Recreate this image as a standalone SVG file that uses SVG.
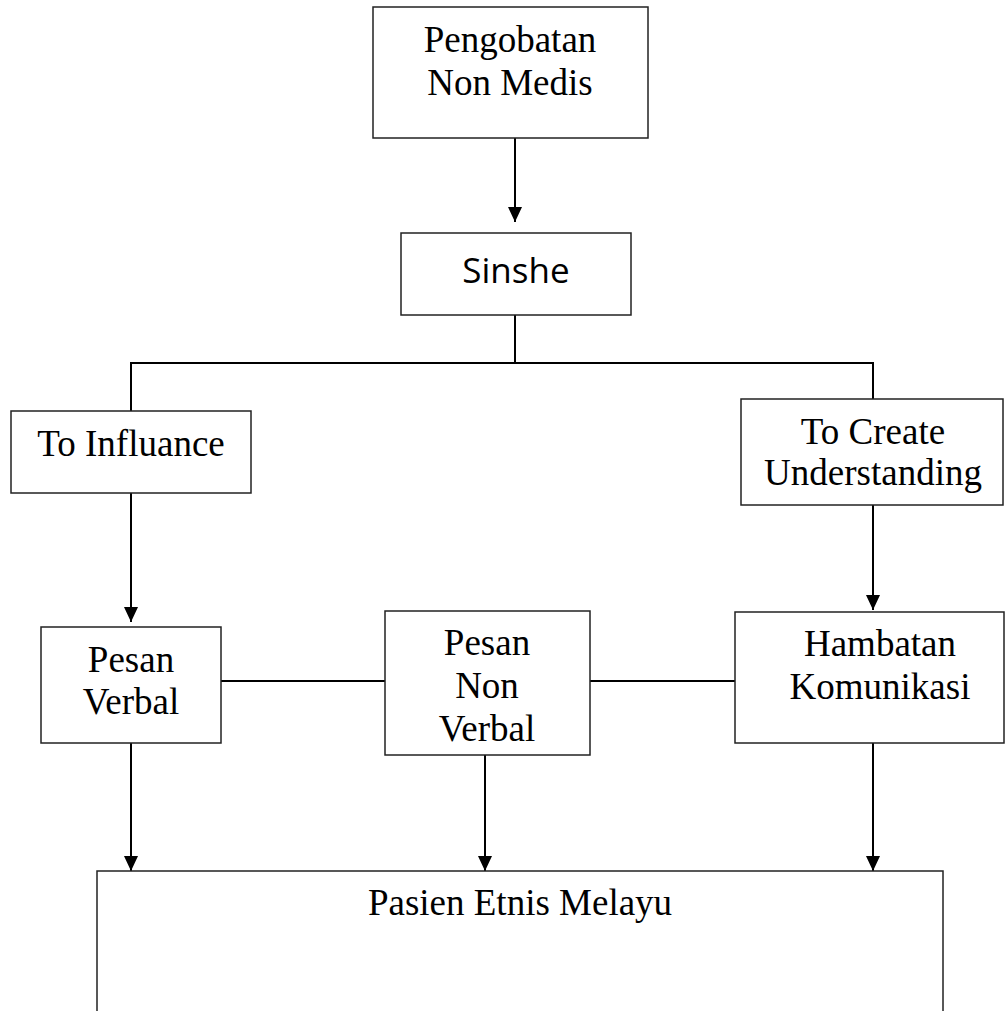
<svg xmlns="http://www.w3.org/2000/svg" width="1005" height="1011" viewBox="0 0 1005 1011">
<style>
.box{fill:#fff;stroke:#222;stroke-width:1.5}
.t{font-family:"Liberation Serif","Times New Roman",serif;font-size:37px;fill:#000;text-anchor:middle}
.s{font-family:"Open Sans","Noto Sans",sans-serif;font-size:35px;fill:#000;text-anchor:middle}
.c{fill:none;stroke:#000;stroke-width:2}
</style>
<defs>
<marker id="arr" markerUnits="userSpaceOnUse" markerWidth="15" markerHeight="14" refX="15" refY="7" orient="auto">
<path d="M0,0 L15,7 L0,14 z" fill="#000"/>
</marker>
</defs>
<rect width="1005" height="1011" fill="#fff"/>
<g id="connectors">
<line class="c" x1="515" y1="138" x2="515" y2="222" marker-end="url(#arr)"/>
<polyline class="c" points="515,315 515,363"/>
<polyline class="c" points="131,411 131,363 873,363 873,399"/>
<line class="c" x1="131" y1="493" x2="131" y2="622" marker-end="url(#arr)"/>
<line class="c" x1="873" y1="505" x2="873" y2="610" marker-end="url(#arr)"/>
<line class="c" x1="221" y1="681" x2="385" y2="681"/>
<line class="c" x1="590" y1="681" x2="735" y2="681"/>
<line class="c" x1="131" y1="743" x2="131" y2="871" marker-end="url(#arr)"/>
<line class="c" x1="485" y1="755" x2="485" y2="871" marker-end="url(#arr)"/>
<line class="c" x1="873" y1="743" x2="873" y2="871" marker-end="url(#arr)"/>
</g>
<g id="pengobatan">
<rect class="box" x="373" y="7" width="275" height="131"/>
<text class="t" x="510" y="52">Pengobatan</text>
<text class="t" x="510" y="95">Non Medis</text>
</g>
<g id="sinshe">
<rect class="box" x="401" y="233" width="230" height="82"/>
<text class="s" x="516" y="283">Sinshe</text>
</g>
<g id="influance">
<rect class="box" x="11" y="411" width="240" height="82"/>
<text class="t" x="131" y="456">To Influance</text>
</g>
<g id="understanding">
<rect class="box" x="741" y="399" width="262" height="106"/>
<text class="t" x="873" y="444">To Create</text>
<text class="t" x="873" y="485">Understanding</text>
</g>
<g id="pesan-verbal">
<rect class="box" x="41" y="627" width="180" height="116"/>
<text class="t" x="131" y="672">Pesan</text>
<text class="t" x="131" y="714">Verbal</text>
</g>
<g id="pesan-non-verbal">
<rect class="box" x="385" y="611" width="205" height="144"/>
<text class="t" x="487" y="655">Pesan</text>
<text class="t" x="487" y="698">Non</text>
<text class="t" x="487" y="741">Verbal</text>
</g>
<g id="hambatan">
<rect class="box" x="735" y="612" width="269" height="131"/>
<text class="t" x="880" y="656">Hambatan</text>
<text class="t" x="880" y="699">Komunikasi</text>
</g>
<g id="pasien">
<rect class="box" x="97" y="871" width="846" height="160"/>
<text class="t" x="520" y="915">Pasien Etnis Melayu</text>
</g>
</svg>
